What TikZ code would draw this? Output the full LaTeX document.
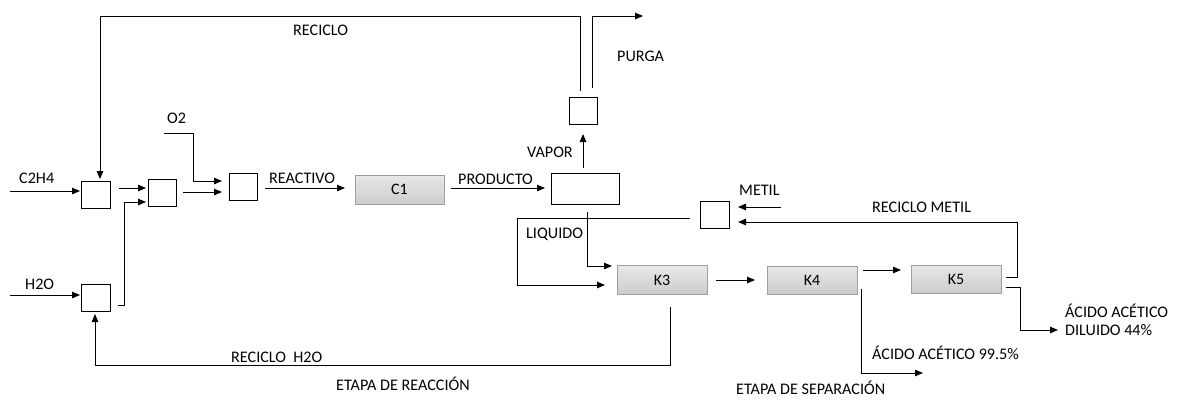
\documentclass[tikz,border=0pt]{standalone}
\usepackage{fontspec}
\setmainfont{Carlito}
\usetikzlibrary{arrows.meta}
\tikzset{
  unit/.style={draw=black, line width=0.9bp, fill=white, inner sep=0pt},
  equip/.style={draw=gray!75, line width=0.8bp, top color=gray!18, bottom color=gray!40, inner sep=0pt, font=\fontsize{16}{19}\selectfont},
  flow/.style={line width=1bp, draw=black},
  arr/.style={flow, -{Triangle[length=8bp,width=6.5bp]}},
  lbl/.style={anchor=base west, inner sep=0pt, font=\fontsize{16.2}{19}\selectfont}
}
\begin{document}
\begin{tikzpicture}[x=1bp,y=-1bp]
\useasboundingbox (0,0) rectangle (1184,401);
\fill[white] (0,0) rectangle (1184,401);
% units
\node[unit, minimum width=29bp, minimum height=27bp] (A) at (95.5,194.5) {};
\node[unit, minimum width=28bp, minimum height=27bp] (B) at (162,192.5) {};
\node[unit, minimum width=28bp, minimum height=27bp] (Cm) at (243,186.5) {};
\node[unit, minimum width=29bp, minimum height=27bp] (W) at (95.5,297.5) {};
\node[unit, minimum width=68bp, minimum height=31bp] (S) at (585,188.5) {};
\node[unit, minimum width=28bp, minimum height=27bp] (P) at (583,110.5) {};
\node[unit, minimum width=29bp, minimum height=27bp] (M) at (714.5,215) {};
\node[equip, minimum width=89bp, minimum height=29bp] (C1) at (399.5,189.5) {C1};
\node[equip, minimum width=90bp, minimum height=29bp] (K3) at (662,280) {K3};
\node[equip, minimum width=90bp, minimum height=28bp] (K4) at (812,280) {K4};
\node[equip, minimum width=90bp, minimum height=28bp] (K5) at (956,279) {K5};
% free ends
\coordinate (c2h4in) at (10,191);
\coordinate (h2oin) at (10,295);
\coordinate (o2in) at (164,133);
\coordinate (metilin) at (781,207);
\coordinate (purgeout) at (643,16);
\coordinate (acid995) at (923,373);
\coordinate (acid44) at (1058,330);
% feeds
\draw[arr] (c2h4in) -- (80,191);
\draw[arr] (h2oin) -- (80,295);
\draw[arr] (119,188) -- (146,188);
\draw[arr] (118,305) -- (124,305) -- (124,202) -- (146,202);
\draw[arr] (183,192) -- (222,192);
\draw[arr] (o2in) -- (193,133) -- (193,181) -- (222,181);
\draw[arr] (265,188) -- (345,188);
\draw[arr] (451,188) -- (545,188);
\draw[arr] (583,168) -- (583,134);
% recycle & purge
\draw[arr] (580,91) -- (580,16) -- (100,16) -- (100,179);
\draw[arr] (592,88) -- (592,16) -- (purgeout);
% liquid
\draw[arr] (587,212) -- (587,266) -- (612,266);
\draw[arr] (690,218) -- (517,218) -- (517,285) -- (605,285);
\draw[arr] (metilin) -- (738,207);
\draw[arr] (1006,277) -- (1017,277) -- (1017,222) -- (738,222);
\draw[arr] (716,280) -- (755,280);
\draw[arr] (863,270) -- (901,270);
\draw[arr] (670,307) -- (670,365) -- (95,365) -- (95,314);
\draw[arr] (861,289) -- (861,373) -- (acid995);
\draw[arr] (1006,287) -- (1020,287) -- (1020,330) -- (acid44);
% labels
\node[lbl] (tRec) at (293,35) {RECICLO};
\node[lbl] (tPur) at (617,61) {PURGA};
\node[lbl] (tO2) at (167,123) {O2};
\node[lbl] (tC2) at (19,183) {C2H4};
\node[lbl] (tRea) at (269,183) {REACTIVO};
\node[lbl] (tPro) at (458,184) {PRODUCTO};
\node[lbl] (tVap) at (527,157) {VAPOR};
\node[lbl] (tMet) at (739,195) {METIL};
\node[lbl] (tRM) at (872,212) {RECICLO METIL};
\node[lbl] (tLiq) at (526,238) {LIQUIDO};
\node[lbl] (tH2O) at (25,289) {H2O};
\node[lbl] (tRH) at (231,362) {RECICLO\ \ H2O};
\node[lbl] (tER) at (336,390) {ETAPA DE REACCIÓN};
\node[lbl] (tA995) at (872,359) {ÁCIDO ACÉTICO 99.5\%};
\node[lbl] (tES) at (736,394) {ETAPA DE SEPARACIÓN};
\node[lbl] (tA44a) at (1065,317) {ÁCIDO ACÉTICO};
\node[lbl] (tA44b) at (1065,335) {DILUIDO 44\%};
\end{tikzpicture}
\end{document}
